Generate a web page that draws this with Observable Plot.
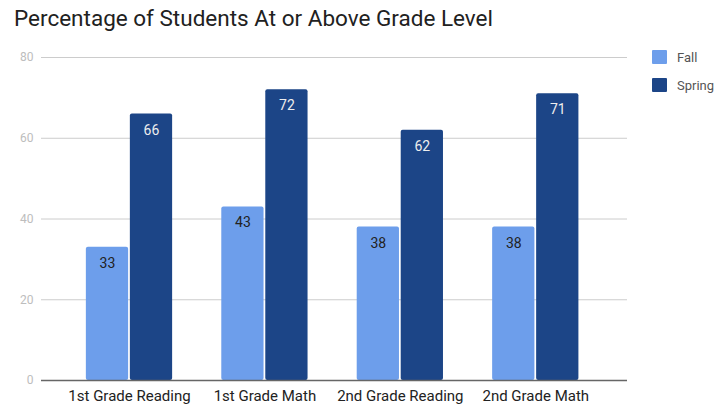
<!DOCTYPE html>
<html>
<head>
<meta charset="utf-8">
<script src="https://cdn.jsdelivr.net/npm/d3@7"></script>
<script src="https://cdn.jsdelivr.net/npm/@observablehq/plot@0.6"></script>
<style>
  html, body { margin: 0; padding: 0; background: #fff; }
  #wrap { position: relative; width: 727px; height: 405px; font-family: Roboto, "Noto Sans", sans-serif; }
  #title { position: absolute; left: 14px; top: 5px; font-size: 22.5px; color: #212121; white-space: nowrap; }
  #legend { position: absolute; left: 652px; top: 50px; font-size: 13px; color: #555; }
  .row { display: flex; align-items: center; height: 14px; margin-bottom: 14px; }
  .sw { width: 15px; height: 14px; border-radius: 1px; margin-right: 10px; }
  #chart { position: absolute; left: 0; top: 0; }
</style>
</head>
<body>
<div id="wrap">
  <div id="chart"></div>
  <div id="title"></div>
  <div id="legend"></div>
</div>
<script>
const title = "Percentage of Students At or Above Grade Level";
const categories = ["1st Grade Reading", "1st Grade Math", "2nd Grade Reading", "2nd Grade Math"];
const seriesNames = ["Fall", "Spring"];
const fallValues = [33, 43, 38, 38];
const springValues = [66, 72, 62, 71];
const yTicks = [0, 20, 40, 60, 80];
const colors = ["#6d9eeb", "#1c4587"];
const labelColors = ["#222222", "#eeeeee"];

const fall = categories.map((c, i) => ({category: c, series: "Fall", value: fallValues[i]}));
const spring = categories.map((c, i) => ({category: c, series: "Spring", value: springValues[i]}));

document.getElementById("title").textContent = title;
const legend = document.getElementById("legend");
seriesNames.forEach((s, i) => {
  const row = document.createElement("div");
  row.className = "row";
  const sw = document.createElement("div");
  sw.className = "sw";
  sw.style.background = colors[i];
  const t = document.createElement("span");
  t.textContent = s;
  row.appendChild(sw); row.appendChild(t);
  legend.appendChild(row);
});

const chart = Plot.plot({
  width: 727,
  height: 405,
  marginLeft: 41,
  marginRight: 100,
  marginTop: 57,
  marginBottom: 25,
  style: {fontFamily: "Roboto, 'Noto Sans', sans-serif", background: "transparent"},
  x: {domain: categories, paddingInner: 0.363, paddingOuter: 0.345, align: 0.48, round: false, label: null},
  y: {domain: [0, 80], label: null},
  marks: [
    Plot.gridY(yTicks, {stroke: "#cccccc", strokeOpacity: 1}),
    Plot.axisY(yTicks, {tickSize: 0, tickPadding: 8, fontSize: 12, color: "#bdbdbd", label: null}),
    Plot.axisX({tickSize: 0, tickPadding: 10, fontSize: 15, color: "#222222", label: null}),
    Plot.barY(fall, {x: "category", y: "value", fill: colors[0], insetRight: 44, rx: 2}),
    Plot.barY(spring, {x: "category", y: "value", fill: colors[1], insetLeft: 44, rx: 2}),
    Plot.ruleY([0], {stroke: "#666666", strokeWidth: 1.5}),
    Plot.text(fall, {x: "category", y: "value", text: d => String(d.value), dx: -22, dy: 16, fill: labelColors[0], fontSize: 14}),
    Plot.text(spring, {x: "category", y: "value", text: d => String(d.value), dx: 22, dy: 16, fill: labelColors[1], fontSize: 14})
  ]
});
document.getElementById("chart").appendChild(chart);
</script>
</body>
</html>
